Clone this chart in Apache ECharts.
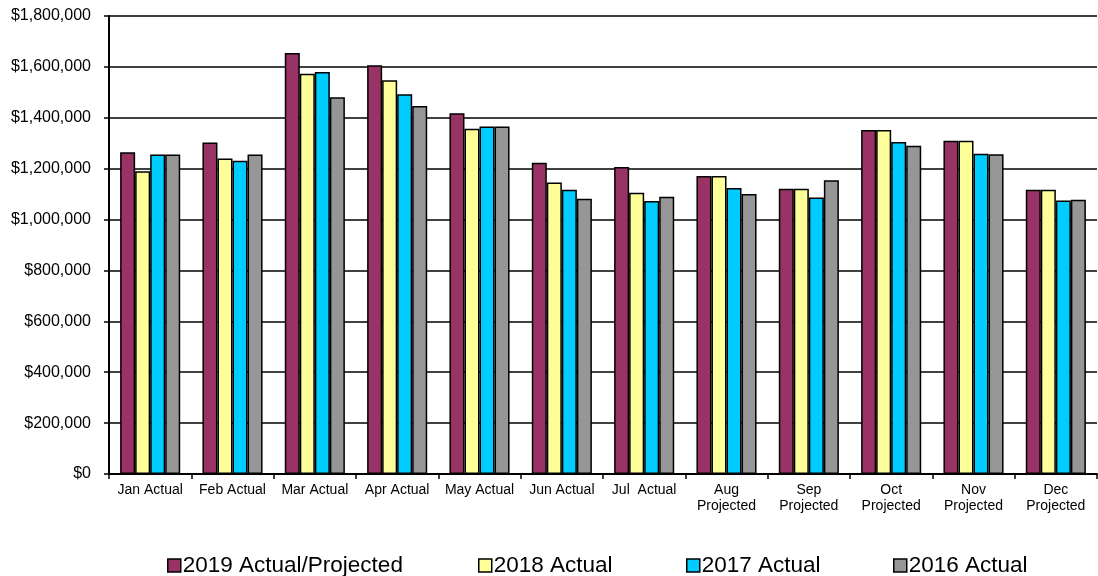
<!DOCTYPE html>
<html><head><meta charset="utf-8">
<script src="https://cdn.jsdelivr.net/npm/echarts@6/dist/echarts.min.js"></script>
<style>html,body{margin:0;padding:0;background:#fff}#c{width:1098px;height:576px}</style>
</head><body><div id="c"></div>
<script>
var categories = ["Jan Actual","Feb Actual","Mar Actual","Apr Actual","May Actual","Jun Actual","Jul  Actual","Aug\nProjected","Sep\nProjected","Oct\nProjected","Nov\nProjected","Dec\nProjected"];
var s2019 = [1265000,1303000,1655000,1606000,1418000,1223000,1207000,1171000,1121000,1352000,1310000,1117000];
var s2018 = [1190000,1240000,1573000,1547000,1357000,1146000,1105000,1171000,1121000,1352000,1310000,1117000];
var s2017 = [1256000,1231000,1580000,1492000,1366000,1117000,1073000,1124000,1087000,1305000,1259000,1075000];
var s2016 = [1256000,1256000,1481000,1446000,1366000,1082000,1090000,1100000,1154000,1290000,1257000,1078000];
var seriesNames = ["2019 Actual/Projected","2018 Actual","2017 Actual","2016 Actual"];
var colors = ["#993366","#FFFF99","#00CCFF","#969696"];
var yTicks = {min:0, max:1800000, interval:200000};

var chart = echarts.init(document.getElementById('c'), null, {renderer:'canvas'});
var font = '"Liberation Sans", Arial, sans-serif';
function fmt(v){ return '$' + v.toString().replace(/\B(?=(\d{3})+(?!\d))/g, ','); }
var datas = [s2019, s2018, s2017, s2016];
var legendLefts = [162, 473, 681, 888];
var option = {
  animation:false,
  textStyle:{fontFamily:font},
  grid:{left:109, right:1, top:16, bottom:102, show:false, containLabel:false},
  legend: seriesNames.map(function(n,i){return {
    data:[n], left:legendLefts[i], top:549, itemWidth:13, itemHeight:13, itemGap:0,
    icon:'rect', textStyle:{fontSize:22.5, color:'#000', fontFamily:font, padding:[0,0,0,-3]},
    itemStyle:{borderColor:'#000', borderWidth:1.5}
  };}),
  xAxis:{type:'category', data:categories,
    axisLine:{lineStyle:{color:'#000', width:2}},
    axisTick:{show:true, length:5, lineStyle:{color:'#000', width:1.5}},
    axisLabel:{color:'#000', fontSize:14, fontFamily:font, margin:8, interval:0, lineHeight:16, align:'center'}
  },
  yAxis:{type:'value', min:yTicks.min, max:yTicks.max, interval:yTicks.interval,
    axisLine:{show:true, lineStyle:{color:'#000', width:2}},
    axisTick:{show:true, length:5, lineStyle:{color:'#000', width:1.5}},
    splitLine:{lineStyle:{color:'#000', width:1.5}},
    axisLabel:{color:'#000', fontSize:16, fontFamily:font, margin:18, formatter:fmt}
  },
  series: seriesNames.map(function(n,i){return {
    name:n, type:'bar', data:datas[i], barGap:'0%', barCategoryGap:'27%',
    itemStyle:{color:colors[i], borderColor:'#000', borderWidth:1.5}
  };})
};
chart.setOption(option);
</script></body></html>
